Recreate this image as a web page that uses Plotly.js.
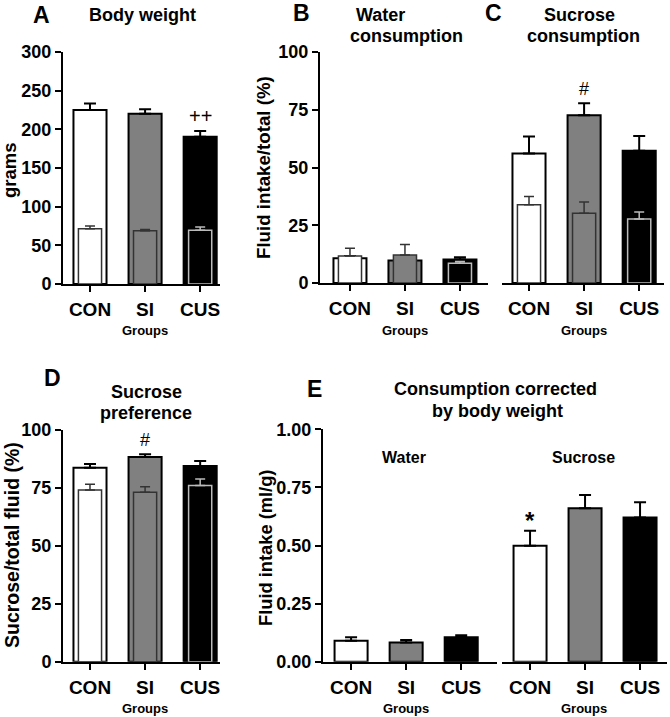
<!DOCTYPE html>
<html>
<head>
<meta charset="utf-8">
<script src="https://cdn.plot.ly/plotly-3.0.1.min.js"></script>
<style>html,body{margin:0;padding:0;background:#fff;}#chart{width:670px;height:717px;}</style>
</head>
<body>
<div id="chart"></div>
<script>
// ---------- data ----------
const groups = ['CON', 'SI', 'CUS'];
// A: body weight (grams)
const bwFinal = [225, 220, 190.5];
const bwFinalErr = [8.5, 6, 7.3];
const bwBase = [71.5, 69, 69.4];
const bwBaseErr = [3.5, 1.5, 4.3];
// B: water consumption (% of total fluid)
const waterFinal = [10.7, 9.7, 10.2];
const waterFinalErr = [1, 1, 0.9];
const waterBase = [11.7, 12.1, 8.5];
const waterBaseErr = [3.3, 4.6, 0.8];
// C: sucrose consumption (% of total fluid)
const sucFinal = [56.1, 72.6, 57.3];
const sucFinalErr = [7.3, 5.2, 6.3];
const sucBase = [33.9, 30.2, 27.7];
const sucBaseErr = [3.5, 4.9, 3.0];
// D: sucrose preference (%)
const prefFinal = [83.7, 88.3, 84.5];
const prefFinalErr = [1.6, 1.2, 2.1];
const prefBase = [74.1, 73.1, 76.0];
const prefBaseErr = [2.5, 2.4, 2.9];
// E: consumption corrected by body weight (ml/g)
const waterBW = [0.090, 0.083, 0.105];
const waterBWErr = [0.015, 0.010, 0.009];
const sucroseBW = [0.499, 0.660, 0.621];
const sucroseBWErr = [0.065, 0.057, 0.065];
// annotation marks
const markA = '++', markC = '#', markD = '#', markE = '*';

// ---------- styles ----------
const W = 670, H = 717;
const px = x => x / W;
const py = y => 1 - y / H;
const FONT = 'Liberation Sans, Arial, sans-serif';
const fills = ['#ffffff', '#808080', '#000000'];
const innerLines = ['#333333', '#333333', '#bbbbbb'];
const OUTER_W = 0.6, INNER_W = 0.42;

const traces = [];
function outer(vals, errs, xa, ya) {
  traces.push({
    type: 'bar', x: groups, y: vals, xaxis: xa, yaxis: ya, width: OUTER_W,
    marker: {color: fills, line: {color: '#000', width: 2}},
    error_y: {type: 'data', array: errs, arrayminus: errs.map(() => 0), symmetric: false,
      color: '#000', thickness: 2, width: 6},
    showlegend: false, hoverinfo: 'skip'
  });
}
function inner(vals, errs, xa, ya) {
  groups.forEach((g, i) => {
    traces.push({
      type: 'bar', x: [g], y: [vals[i]], xaxis: xa, yaxis: ya, width: INNER_W,
      marker: {color: fills[i], line: {color: innerLines[i], width: 1.5}},
      error_y: {type: 'data', array: [errs[i]], arrayminus: [0], symmetric: false,
        color: innerLines[i], thickness: 1.5, width: 5},
      showlegend: false, hoverinfo: 'skip'
    });
  });
}
outer(bwFinal, bwFinalErr, 'x', 'y');     inner(bwBase, bwBaseErr, 'x', 'y');
outer(waterFinal, waterFinalErr, 'x2', 'y2'); inner(waterBase, waterBaseErr, 'x2', 'y2');
outer(sucFinal, sucFinalErr, 'x3', 'y2'); inner(sucBase, sucBaseErr, 'x3', 'y2');
outer(prefFinal, prefFinalErr, 'x4', 'y3'); inner(prefBase, prefBaseErr, 'x4', 'y3');
outer(waterBW, waterBWErr, 'x5', 'y4');
outer(sucroseBW, sucroseBWErr, 'x6', 'y4');

const xc = {
  type: 'category', showline: true, linewidth: 2, linecolor: '#000', showgrid: false, zeroline: false,
  ticks: 'outside', ticklen: 6, tickwidth: 2, tickcolor: '#000', ticklabelstandoff: 1,
  tickfont: {family: FONT, size: 19, color: '#000', weight: 'bold'}, fixedrange: true
};
const yc = {
  showline: true, linewidth: 2, linecolor: '#000', showgrid: false, zeroline: false,
  ticks: 'outside', ticklen: 6, tickwidth: 2, tickcolor: '#000',
  tickfont: {family: FONT, size: 18, color: '#000', weight: 'bold'}, fixedrange: true
};

function ann(text, x, y, size, opts) {
  return Object.assign({text: text, x: px(x), y: py(y), xref: 'paper', yref: 'paper',
    showarrow: false, xanchor: 'center', yanchor: 'middle',
    font: {family: FONT, size: size, color: '#000', weight: 'bold'}}, opts || {});
}
function mark(text, xa, ya, cat, yv, size, weight, shift) {
  return {text: text, x: cat, y: yv, xref: xa, yref: ya, showarrow: false,
    xanchor: 'center', yanchor: 'bottom', yshift: shift,
    font: {family: FONT, size: size, color: '#000', weight: weight}};
}

const annotations = [
  ann('A', 41, 15, 23), ann('Body weight', 142, 15, 18),
  ann('B', 301, 13, 23), ann('Water', 380, 15, 18), ann('consumption', 406, 36, 18),
  ann('C', 494, 13, 23), ann('Sucrose', 579, 15, 18), ann('consumption', 583, 36, 18),
  ann('D', 52, 378, 23), ann('Sucrose', 146, 392, 18), ann('preference', 146, 413, 18),
  ann('E', 314, 389, 23), ann('Consumption corrected', 495, 389, 18), ann('by body weight', 497, 411, 18),
  ann('Water', 404, 457, 16), ann('Sucrose', 583, 457, 16),
  ann('Groups', 145, 330, 13), ann('Groups', 405, 330, 13), ann('Groups', 584, 330, 13),
  ann('Groups', 145, 708, 13), ann('Groups', 406, 708, 13), ann('Groups', 584, 708, 13),
  ann('grams', 9, 170, 18.5, {textangle: -90}),
  ann('Fluid intake/total (%)', 264, 168, 18.7, {textangle: -90}),
  ann('Sucrose/total fluid (%)', 12, 545, 19.5, {textangle: -90}),
  ann('Fluid intake (ml/g)', 265, 548, 18.3, {textangle: -90}),
  mark(markA, 'x', 'y', 'CUS', bwFinal[2] + bwFinalErr[2], 20, 'normal', 2),
  mark(markC, 'x3', 'y2', 'SI', sucFinal[1] + sucFinalErr[1], 18, 'normal', 2),
  mark(markD, 'x4', 'y3', 'SI', prefFinal[1] + prefFinalErr[1], 18, 'normal', 2),
  mark(markE, 'x6', 'y4', 'CON', sucroseBW[0] + sucroseBWErr[0], 24, 'bold', -5)
];

const layout = {
  width: W, height: H, margin: {l: 0, r: 0, t: 0, b: 0},
  paper_bgcolor: '#fff', plot_bgcolor: 'rgba(0,0,0,0)',
  barmode: 'overlay', showlegend: false,
  xaxis:  Object.assign({}, xc, {domain: [px(63), px(220)], range: [-0.49, 2.36], anchor: 'y'}),
  yaxis:  Object.assign({}, yc, {domain: [py(284), py(52)], range: [0, 300], dtick: 50, anchor: 'x'}),
  xaxis2: Object.assign({}, xc, {domain: [px(320), px(488)], range: [-0.545, 2.51], anchor: 'y2'}),
  yaxis2: Object.assign({}, yc, {domain: [py(283), py(52)], range: [0, 100], dtick: 25, anchor: 'x2'}),
  xaxis3: Object.assign({}, xc, {domain: [px(502), px(664)], range: [-0.49, 2.45], anchor: 'y2'}),
  xaxis4: Object.assign({}, xc, {domain: [px(63), px(220)], range: [-0.49, 2.36], anchor: 'y3'}),
  yaxis3: Object.assign({}, yc, {domain: [py(661.7), py(430)], range: [0, 100], dtick: 25, anchor: 'x4'}),
  xaxis5: Object.assign({}, xc, {domain: [px(323), px(497)], range: [-0.51, 2.65], anchor: 'y4'}),
  yaxis4: Object.assign({}, yc, {domain: [py(661.7), py(429.3)], range: [0, 1], dtick: 0.25, tickformat: '.2f', anchor: 'x5'}),
  xaxis6: Object.assign({}, xc, {domain: [px(502), px(667)], range: [-0.51, 2.49], anchor: 'y4'}),
  annotations: annotations
};

Plotly.newPlot('chart', traces, layout, {displayModeBar: false, staticPlot: true});
</script>
</body>
</html>
